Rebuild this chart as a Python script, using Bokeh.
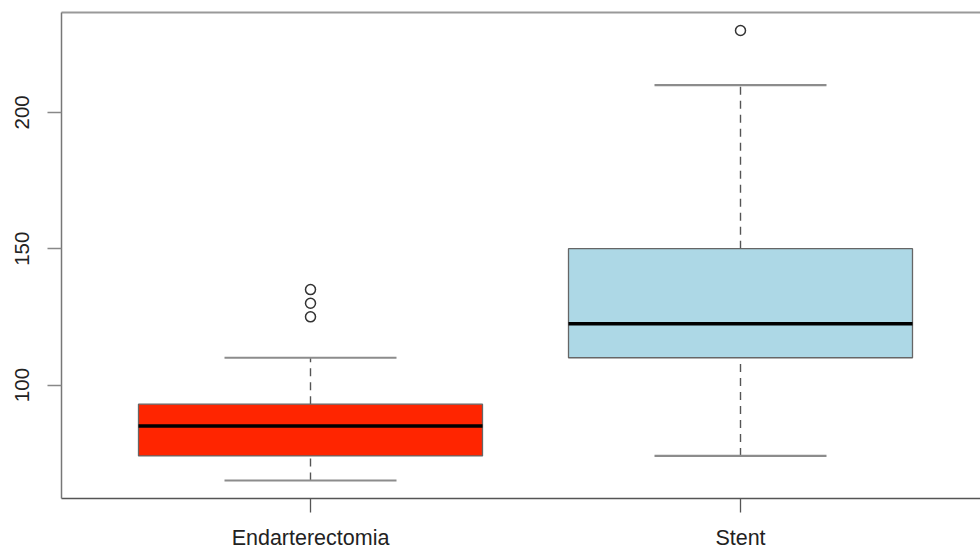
from bokeh.plotting import figure
from bokeh.models import Range1d, FixedTicker, LinearAxis
from bokeh.embed import file_html
from bokeh.resources import INLINE

# ---- data ----
categories = ["Endarterectomia", "Stent"]
q1 = [74, 110]
medians = [85, 122.5]
q3 = [93, 150]
whisker_low = [65, 74]
whisker_high = [110, 210]
outlier_group = ["Endarterectomia", "Endarterectomia", "Endarterectomia", "Stent"]
outlier_values = [125, 130, 135, 230]
y_ticks = [100, 150, 200]
fill_colors = ["#FF2500", "#ADD8E6"]

# ---- derived positions ----
positions = [i + 1 for i in range(len(categories))]
pos_of = {c: i + 1 for i, c in enumerate(categories)}
box_half = 0.4
cap_half = 0.2
box_left = [x - box_half for x in positions]
box_right = [x + box_half for x in positions]
cap_left = [x - cap_half for x in positions]
cap_right = [x + cap_half for x in positions]
out_x = [pos_of[g] for g in outlier_group]

FONT = "Liberation Sans"

p = figure(
    width=980, height=552,
    x_range=Range1d(0.42093, 2.55814),
    y_range=Range1d(58.4, 236.6),
    output_backend="svg", toolbar_location=None,
    min_border_left=61, min_border_right=0, min_border_top=12, min_border_bottom=54,
)
p.outline_line_color = None
p.xgrid.visible = False
p.ygrid.visible = False
p.background_fill_color = "white"
p.border_fill_color = "white"

# whiskers (dashed)
p.segment(x0=positions, x1=positions, y0=q3, y1=whisker_high,
          line_color="#555555", line_width=1.4, line_dash="8 6")
p.segment(x0=positions, x1=positions, y0=whisker_low, y1=q1,
          line_color="#555555", line_width=1.4, line_dash="8 6")
# caps
p.segment(x0=cap_left, x1=cap_right, y0=whisker_high, y1=whisker_high,
          line_color="#8c8c8c", line_width=2.2)
p.segment(x0=cap_left, x1=cap_right, y0=whisker_low, y1=whisker_low,
          line_color="#8c8c8c", line_width=2.2)
# boxes
p.quad(left=box_left, right=box_right, bottom=q1, top=q3,
       fill_color=fill_colors, line_color="#666666", line_width=1.3)
# medians
p.segment(x0=box_left, x1=box_right, y0=medians, y1=medians,
          line_color="black", line_width=3.5)
# outliers
p.scatter(x=out_x, y=outlier_values, marker="circle", size=10,
          fill_color=None, line_color="#333333", line_width=1.5)

# x axis
xa = p.xaxis[0]
xa.ticker = FixedTicker(ticks=positions)
xa.major_label_overrides = {pos: cat for pos, cat in zip(positions, categories)}
xa.minor_tick_line_color = None
xa.major_tick_in = 0
xa.major_tick_out = 14
xa.major_tick_line_color = "#555555"
xa.major_tick_line_width = 1.3
xa.axis_line_color = "#555555"
xa.axis_line_width = 1.5
xa.major_label_standoff = 13
xa.major_label_text_font = FONT
xa.major_label_text_font_size = "21.5px"
xa.major_label_text_color = "#222222"

# y axis
ya = p.yaxis[0]
ya.ticker = FixedTicker(ticks=y_ticks)
ya.minor_tick_line_color = None
ya.major_tick_in = 0
ya.major_tick_out = 14
ya.major_tick_line_color = "#888888"
ya.major_tick_line_width = 1.5
ya.axis_line_color = "#777777"
ya.axis_line_width = 1.5
ya.major_label_orientation = "vertical"
ya.major_label_standoff = 18
ya.major_label_text_font = FONT
ya.major_label_text_font_size = "20.5px"
ya.major_label_text_color = "#222222"

# top frame line
top = LinearAxis(ticker=FixedTicker(ticks=[]))
top.major_tick_out = 0
top.major_tick_in = 0
top.minor_tick_line_color = None
top.major_label_text_font_size = "0px"
top.axis_line_color = "#999999"
top.axis_line_width = 2
p.add_layout(top, "above")

open("out.html", "w").write(file_html(p, INLINE))
